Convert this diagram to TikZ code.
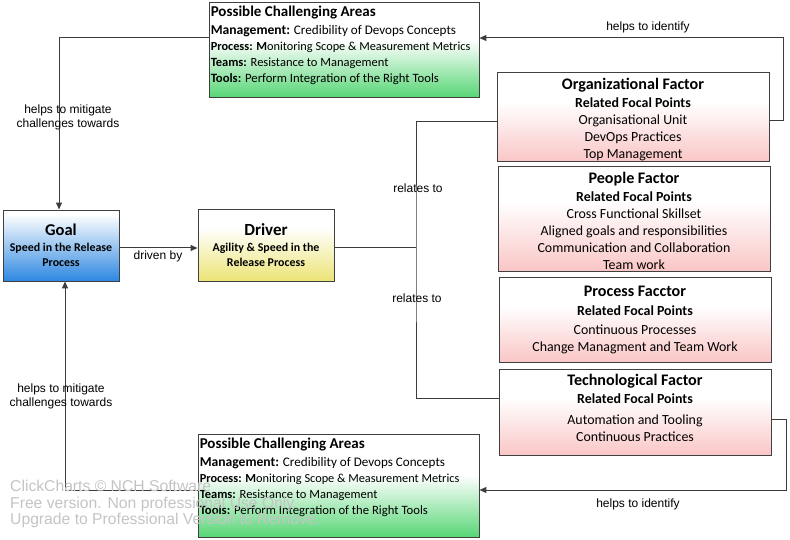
\documentclass[tikz,border=0pt]{standalone}
\usepackage{fontspec}
\setmainfont{Carlito}
\newfontfamily\arialfont{Liberation Sans}
\usetikzlibrary{arrows.meta,positioning}

\definecolor{boxgray}{RGB}{64,64,64}
\definecolor{linegray}{RGB}{60,60,60}
\definecolor{chlgreen}{RGB}{88,214,118}
\definecolor{goalblue}{RGB}{45,135,225}
\definecolor{drvyellow}{RGB}{236,228,118}
\definecolor{fctpink}{RGB}{250,198,198}
\definecolor{wmgray}{RGB}{196,196,196}

\pgfdeclareverticalshading{greenfade}{100bp}{color(0bp)=(chlgreen); color(25bp)=(chlgreen); color(55bp)=(white); color(100bp)=(white)}
\pgfdeclareverticalshading{bluefade}{100bp}{color(0bp)=(goalblue); color(25bp)=(goalblue); color(72bp)=(white); color(100bp)=(white)}
\pgfdeclareverticalshading{yellowfade}{100bp}{color(0bp)=(drvyellow); color(25bp)=(drvyellow); color(62bp)=(white); color(100bp)=(white)}
\pgfdeclareverticalshading{pinkfade}{100bp}{color(0bp)=(fctpink); color(25bp)=(fctpink); color(58bp)=(white); color(100bp)=(white)}

% righe delle aree
\newcommand{\chlrows}{{\fontsize{15}{16}\selectfont\bfseries Possible Challenging Areas}\\[2pt]
    {\fontsize{13.6}{16}\selectfont\bfseries Management:} {\fontsize{13.1}{16}\selectfont Credibility of Devops Concepts}\\
    {\fontsize{12.3}{16}\selectfont\textbf{Process: M}onitoring Scope \& Measurement Metrics}\\
    {\fontsize{12.5}{16}\selectfont\textbf{Teams:} Resistance to Management}\\
    {\fontsize{12.7}{16}\selectfont\textbf{Tools:} Perform Integration of the Right Tools}}

\tikzset{
  box/.style={draw=boxgray, line width=0.9pt, inner sep=0pt, shade},
  chlbox/.style={box, shading=greenfade},
  chltxt/.style={anchor=north west, align=left, inner sep=0pt, font=\fontsize{13}{16}\selectfont},
  fctbox/.style={box, shading=pinkfade, align=center, font=\fontsize{13.9}{17}\selectfont},
  line/.style={draw=linegray, line width=1pt},
  conn/.style={line, -{Triangle[length=7pt,width=6pt]}},
  lbl/.style={font=\arialfont\fontsize{12}{14}\selectfont, align=center, inner sep=0pt},
}

\begin{document}
\begin{tikzpicture}[x=1pt,y=-1pt]
  \useasboundingbox (0,0) rectangle (790,540);

  % challenging areas
  \node[chlbox, minimum width=270pt, minimum height=95pt] (topca) at (344,49.5) {};
  \node[chltxt] (topcatxt) at ([shift={(2,4.5)}]topca.north west) {\chlrows};
  \node[chlbox, minimum width=281pt, minimum height=103pt] (botca) at (338.5,485.5) {};
  \node[chltxt] (botcatxt) at ([shift={(2,4.5)}]botca.north west) {\chlrows};

  % goal e driver
  \node[box, shading=bluefade, minimum width=116pt, minimum height=71pt, align=center, font=\fontsize{11.9}{15}\selectfont\bfseries] (goal) at (61,245.5)
    {{\fontsize{16.5}{17}\selectfont Goal}\\[1pt] Speed in the Release\\ Process};
  \node[box, shading=yellowfade, minimum width=136pt, minimum height=72pt, align=center, font=\fontsize{11.9}{15}\selectfont\bfseries] (driver) at (266,245)
    {{\fontsize{17}{17}\selectfont Driver}\\[1pt] Agility \& Speed in the\\ Release Process};

  % factors
  \node[fctbox, minimum width=272pt, minimum height=89pt] (org) at (633,116.5)
    {\rule{0pt}{17pt}{\fontsize{16.1}{17}\selectfont\bfseries Organizational Factor}\\[1pt] \textbf{Related Focal Points}\\ Organisational Unit\\ DevOps Practices\\ Top Management};
  \node[fctbox, minimum width=272pt, minimum height=105pt] (people) at (634,218.5)
    {\rule{0pt}{16pt}{\fontsize{16.1}{17}\selectfont\bfseries People Factor}\\[1pt] \textbf{Related Focal Points}\\ Cross Functional Skillset\\ Aligned goals and responsibilities\\ Communication and Collaboration\\ Team work};
  \node[fctbox, minimum width=272pt, minimum height=85pt] (process) at (635,319.5)
    {{\fontsize{16.1}{17}\selectfont\bfseries Process Facctor}\\[2pt] \textbf{Related Focal Points}\\[2pt] Continuous Processes\\ Change Managment and Team Work};
  \node[fctbox, minimum width=272pt, minimum height=86pt] (tech) at (635,412)
    {{\fontsize{16.1}{17}\selectfont\bfseries Technological Factor}\\[1pt] \textbf{Related Focal Points}\\[4pt] Automation and Tooling\\ Continuous Practices\rule[-9pt]{0pt}{0pt}};

  % connectors
  \coordinate (jn) at (416,248);
  \draw[conn] ([yshift=11.5pt]topca.west) -| ([xshift=-2pt]goal.north); % verso goal
  \draw[conn] ([yshift=-4.5pt]botca.west) -| ([xshift=4pt]goal.south);
  \draw[conn] ([yshift=-2.5pt]goal.east) -- ([yshift=-3pt]driver.west);
  \draw[line] ([yshift=-3pt]driver.east) -- (jn);
  \draw[line] ([yshift=-5.5pt]org.west) -| (jn) |- ([yshift=14pt]tech.west);
  \draw[conn] ([yshift=-4.5pt]org.east) -- ++(14,0) |- ([yshift=11.5pt]topca.east); % da org a top
  \draw[conn] ([yshift=-7pt]tech.east) -- ++(15,0) |- ([yshift=-4.5pt]botca.east); % da tech a bot

  % labels
  \node[lbl] (lmit1) at (68,117) {helps to mitigate\\challenges towards};
  \node[lbl] (lmit2) at (61,396) {helps to mitigate\\challenges towards};
  \node[lbl] (ldrv) at (158,256) {driven by};
  \node[lbl] (lrel1) at (418,188) {relates to};
  \node[lbl] (lrel2) at (417,298) {relates to};
  \node[lbl] (lid1) at (648,27) {helps to identify};
  \node[lbl] (lid2) at (638,504) {helps to identify};

  % watermark
  \node[anchor=west, align=left, inner sep=0pt, text=wmgray, font=\arialfont\fontsize{15.7}{16.5}\selectfont] (wmark) at (10,504)
    {ClickCharts \textcopyright{} NCH Software\\Free version. Non professional Use Only.\\Upgrade to Professional Version to Remove.};
\end{tikzpicture}
\end{document}
